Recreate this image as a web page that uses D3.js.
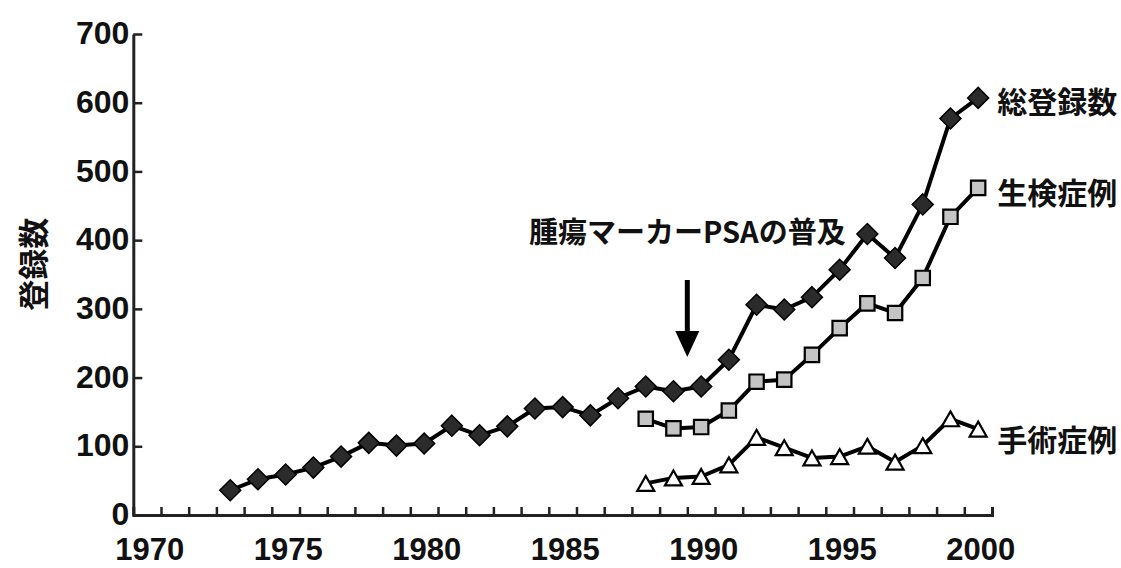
<!DOCTYPE html>
<html>
<head>
<meta charset="utf-8">
<script src="https://cdn.jsdelivr.net/npm/d3@7/dist/d3.min.js"></script>
<style>
  html, body { margin: 0; padding: 0; background: #fff; }
  svg { display: block; }
  .num { font-family: "Liberation Sans", Arial, sans-serif; font-weight: bold; font-size: 32px; fill: #111; }
  .xnum { font-size: 31px; }
  .jp { font-family: "Noto Sans CJK JP", sans-serif; font-weight: bold; fill: #111; }
</style>
</head>
<body>
<svg id="chart" width="1121" height="568"></svg>
<script>
// Registered prostate cancer cases per year
const years = d3.range(1970, 2001);

const totalYears = d3.range(1973, 2001);
const totalValues = [36, 52, 59, 69, 85, 105, 101, 104, 130, 116, 129, 155, 157, 145,
                     170, 187, 180, 187, 226, 306, 299, 317, 357, 409, 374, 452, 577, 607];

const biopsyYears = d3.range(1988, 2001);
const biopsyValues = [140, 126, 128, 152, 194, 197, 233, 272, 308, 294, 345, 434, 476];

const surgeryYears = d3.range(1988, 2001);
const surgeryValues = [46, 54, 56, 73, 113, 98, 83, 85, 100, 77, 101, 140, 125];

const yTicks = [0, 100, 200, 300, 400, 500, 600, 700];
const xLabelYears = [1970, 1975, 1980, 1985, 1990, 1995, 2000];

const seriesNames = ["総登録数", "生検症例", "手術症例"];
const seriesLabelValues = [604, 472, 112];
const yTitle = "登録数";
const noteText = "腫瘍マーカーPSAの普及";
const noteYear = 1989.5;
const noteTextValue = 415;
const arrowFrom = 342, arrowTo = 230;

const svg = d3.select("#chart");

// each year is one category; ticks sit between categories
const x = d3.scaleLinear().domain([1969.5, 2000.5]).range([133.3, 992]);
const y = d3.scaleLinear().domain([0, 700]).range([515, 34]);

// y axis, ticks pointing inward
const yAxis = svg.append("g")
  .attr("transform", `translate(${x.range()[0]},0)`)
  .call(d3.axisLeft(y).tickValues(yTicks).tickSize(-9).tickSizeOuter(0).tickPadding(4));
yAxis.select(".domain").attr("stroke", "#222").attr("stroke-width", 3);
yAxis.selectAll(".tick line").attr("stroke", "#222").attr("stroke-width", 2.5);
yAxis.selectAll(".tick text").attr("class", "num").attr("font-size", null).attr("font-family", null)
  .attr("dy", "0.3em");

// x axis: ticks at category boundaries
const xAxis = svg.append("g")
  .attr("transform", `translate(0,${y(0)})`)
  .call(d3.axisBottom(x).tickValues(d3.range(1970.5, 2000.5, 1)).tickSize(-8).tickSizeOuter(-8).tickFormat(""));
xAxis.select(".domain").attr("stroke", "#222").attr("stroke-width", 3);
xAxis.selectAll(".tick line").attr("stroke", "#222").attr("stroke-width", 2.5);

// year labels at category centres
const xLab = svg.append("g")
  .attr("transform", `translate(0,${y(0)})`)
  .call(d3.axisBottom(x).tickValues(xLabelYears).tickSize(0).tickPadding(0).tickFormat(d3.format("d")));
xLab.select(".domain").remove();
xLab.selectAll(".tick text").attr("class", "num xnum").attr("font-size", null).attr("font-family", null)
  .attr("y", 45).attr("dy", 0).attr("dx", 2);

// y axis title, rotated
svg.append("text").attr("class", "jp")
  .attr("font-size", 31)
  .attr("transform", `translate(31,${(y(290) + y(440)) / 2}) rotate(-90)`)
  .attr("text-anchor", "middle")
  .attr("dominant-baseline", "central")
  .text(yTitle);

// marker shapes
const diamond = { draw(ctx, s) { const r = s; ctx.moveTo(0, -r); ctx.lineTo(r, 0); ctx.lineTo(0, r); ctx.lineTo(-r, 0); ctx.closePath(); } };
const square = { draw(ctx, s) { ctx.rect(-s, -s, 2 * s, 2 * s); } };
const triangle = { draw(ctx, s) { const h = s * 1.75; ctx.moveTo(0, -h / 2); ctx.lineTo(s, h / 2); ctx.lineTo(-s, h / 2); ctx.closePath(); } };

const line = d3.line().x(d => x(d[0])).y(d => y(d[1]));

function drawSeries(yrs, vals, type, size, fill, strokeW) {
  const pts = yrs.map((yr, i) => [yr, vals[i]]);
  const g = svg.append("g");
  g.append("path").datum(pts).attr("d", line)
    .attr("fill", "none").attr("stroke", "#000").attr("stroke-width", 4).attr("stroke-linejoin", "round");
  g.selectAll("path.m").data(pts).join("path").attr("class", "m")
    .attr("transform", d => `translate(${x(d[0])},${y(d[1])})`)
    .attr("d", d3.symbol().type(type).size(size))
    .attr("fill", fill).attr("stroke", "#000").attr("stroke-width", strokeW)
    .attr("stroke-linejoin", "miter");
}

drawSeries(surgeryYears, surgeryValues, triangle, 8.5, "#fff", 2.2);
drawSeries(biopsyYears, biopsyValues, square, 7.2, "#c4c4c4", 2.2);
drawSeries(totalYears, totalValues, diamond, 10.5, "#2b2b2b", 1.5);

// series labels at the right end
[totalValues, biopsyValues, surgeryValues].forEach((vals, i) => {
  svg.append("text").attr("class", "jp")
    .attr("font-size", 30)
    .attr("x", x(2000) + 19)
    .attr("y", y(seriesLabelValues[i]))
    .attr("dominant-baseline", "central")
    .text(seriesNames[i]);
});

// annotation with downward arrow
const ax = x(noteYear);
svg.append("text").attr("class", "jp")
  .attr("font-size", 29)
  .attr("x", ax).attr("y", y(noteTextValue))
  .attr("text-anchor", "middle")
  .attr("dominant-baseline", "central")
  .text(noteText);
const headTop = y(arrowTo) - 26;
svg.append("line")
  .attr("x1", ax).attr("x2", ax)
  .attr("y1", y(arrowFrom)).attr("y2", headTop + 2)
  .attr("stroke", "#000").attr("stroke-width", 5);
svg.append("path")
  .attr("d", `M${ax - 12},${headTop} L${ax + 12},${headTop} L${ax},${y(arrowTo)} Z`)
  .attr("fill", "#000");
</script>
</body>
</html>
